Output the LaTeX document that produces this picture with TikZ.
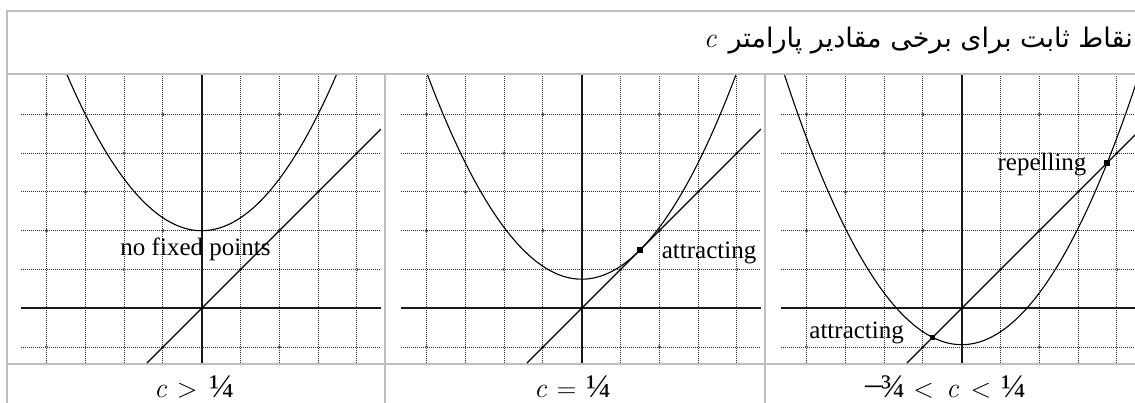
\documentclass[tikz,border=0pt]{standalone}
\usepackage{fontspec}
\newfontfamily\arabicfont[Script=Arabic]{DejaVu Sans}
\newfontfamily\libserif{Liberation Serif}
\TeXXeTstate=1
\tikzset{
  tblline/.style={draw=black!25, line width=1.3pt},
  gridline/.style={black!80, line width=1pt, dash pattern=on 1pt off 1pt},
  gridring/.style={draw=black!70, line width=0.6pt},
  axisline/.style={black!90, line width=1.9pt},
  curve/.style={black, line width=1.1pt},
  fixpt/.style={fill=black, minimum size=5.5pt, inner sep=0pt, rectangle},
  lbl/.style={font=\libserif\fontsize{25}{28}\selectfont, inner sep=0pt},
  captext/.style={inner sep=0pt, anchor=base west},
}
\newcommand\drawpanel[1]{%
  \clip (-4.66,-1.41) rectangle (4.62,6.01);
  \draw[gridline] (-4,-1.41) -- (-4,6.01) (-3,-1.41) -- (-3,6.01)
                  (-2,-1.41) -- (-2,6.01) (-1,-1.41) -- (-1,6.01)
                  (1,-1.41) -- (1,6.01) (2,-1.41) -- (2,6.01)
                  (3,-1.41) -- (3,6.01) (4,-1.41) -- (4,6.01);
  \draw[gridline] (-4.66,-1) -- (4.62,-1) (-4.66,1) -- (4.62,1)
                  (-4.66,2) -- (4.62,2) (-4.66,3) -- (4.62,3)
                  (-4.66,4) -- (4.62,4) (-4.66,5) -- (4.62,5);
  \foreach \p/\q in {-4/-1,-1/-1,2/-1,-2/1,1/1,4/1,-4/2,-1/2,2/2,-3/3,3/3,-2/4,1/4,4/4,-4/5,-1/5,2/5}
    \draw[gridring] (\p,\q) circle[radius=1.4pt];
  \draw[axisline] (-4.66,0) -- (4.62,0);
  \draw[axisline] (0,-1.41) -- (0,6.01);
  \draw[curve] (-1.41,-1.41) -- (4.62,4.62);
  \draw[curve, domain=-4.7:4.7, samples=120, smooth] plot (\x, {\x*\x/3 + #1});
}
\newcommand\capc{{\fontsize{28}{30}\selectfont\itshape c}}
\newcommand\caprel[1]{{\fontsize{27}{30}\selectfont #1}}
\newcommand\capfrac[1]{{\libserif\fontsize{33}{36}\selectfont #1}}
\begin{document}
\begin{tikzpicture}[x=1pt,y=-1pt]
\useasboundingbox (0,0) rectangle (1135,403);
% table
\draw[tblline] (7,403) -- (7,11) -- (1135,11);
\draw[tblline] (7,74) -- (1135,74);
\draw[tblline] (7,364) -- (1135,364);
\draw[tblline] (385,74) -- (385,403);
\draw[tblline] (765,74) -- (765,403);
% header
\node[anchor=base east, inner sep=0pt] (title) at (1133,48)
  {\capc\hspace{12pt}{\arabicfont\fontsize{27}{32}\selectfont\beginR نقاط ثابت برای برخی مقادیر پارامتر\endR}};
% panel 1
\begin{scope}[shift={(201.7,308.3)}, x=38.8pt, y=38.8pt]
  \drawpanel{2}
  \node[lbl, anchor=base] (nofix) at (-0.16,1.37) {no fixed points};
\end{scope}
% panel 2
\begin{scope}[shift={(581.7,308.3)}, x=38.8pt, y=38.8pt]
  \drawpanel{0.75}
  \node[fixpt] (fp2) at (1.5,1.5) {};
  \node[lbl, anchor=base west] (attr2) at (2.06,1.29) {attracting};
\end{scope}
% panel 3
\begin{scope}[shift={(961.7,308.3)}, x=38.8pt, y=38.8pt]
  \drawpanel{-0.9375}
  \node[fixpt] (fpa) at (-0.75,-0.75) {};
  \node[fixpt] (fpr) at (3.75,3.75) {};
  \node[lbl, anchor=base east] (rep3) at (3.22,3.56) {repelling};
  \node[lbl, anchor=base west] (attr3) at (-3.93,-0.77) {attracting};
\end{scope}
% captions
\node[captext] (cap1) at (154,397) {\capc\hspace{10pt}\caprel{>}\hspace{12pt}\capfrac{¼}};
\node[captext] (cap2) at (534,397) {\capc\hspace{10pt}\caprel{=}\hspace{10pt}\capfrac{¼}};
\node[captext] (cap3) at (865,397) {\capfrac{\raisebox{3pt}{–}\hspace{-1pt}¾}\hspace{8pt}\caprel{<}\hspace{12pt}\capc\hspace{12pt}\caprel{<}\hspace{10pt}\capfrac{¼}};
\end{tikzpicture}
\end{document}
